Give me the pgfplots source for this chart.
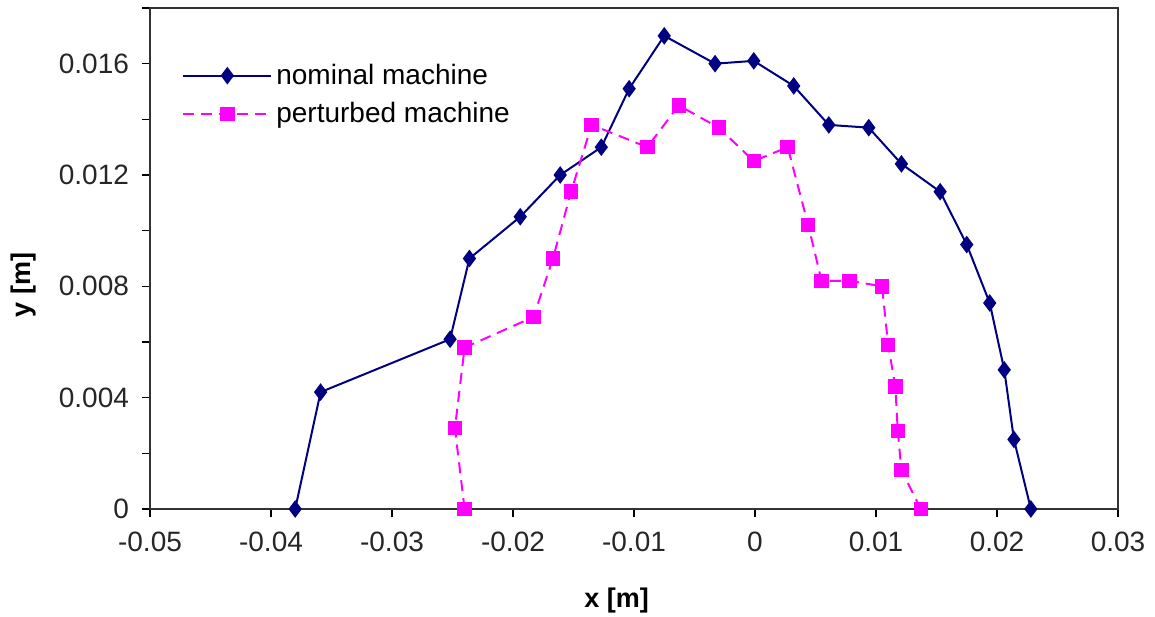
\documentclass[border=0pt]{standalone}
\usepackage{pgfplots}
\pgfplotsset{compat=1.18}
\usepackage{fontspec}
\setmainfont{Liberation Sans}
\definecolor{navyc}{RGB}{0,0,128}
\definecolor{magc}{RGB}{255,0,255}
\begin{document}
\begin{tikzpicture}
\begin{axis}[
  name=ax,
  scale only axis,
  width=484pt, height=250.5pt,
  xmin=-0.05, xmax=0.03, ymin=0, ymax=0.018,
  scaled ticks=false,
  xtick={-0.05,-0.04,-0.03,-0.02,-0.01,0,0.01,0.02,0.03},
  xticklabels={-0.05,-0.04,-0.03,-0.02,-0.01,0,0.01,0.02,0.03},
  ytick={0,0.002,0.004,0.006,0.008,0.010,0.012,0.014,0.016,0.018},
  yticklabels={0,,0.004,,0.008,,0.012,,0.016,},
  tick align=outside,
  major tick length=4pt,
  tick style={black, line width=0.6pt},
  xtick pos=bottom, ytick pos=left,
  axis line style={black!80, line width=0.9pt},
  ticklabel style={font=\fontsize{14}{16}\selectfont, text=black!85},
  xticklabel style={yshift=-4pt},
  yticklabel style={xshift=-3pt},
  xlabel={\textbf{x [m]}},
  ylabel={\textbf{y [m]}},
  xlabel style={font=\fontsize{13.5}{15}\selectfont, at={(axis description cs:0.482,0)}, anchor=center, yshift=-46pt},
  ylabel style={font=\fontsize{13.5}{15}\selectfont, at={(axis description cs:0,0.447)}, anchor=center, rotate=0, yshift=63pt},
  clip=false,
  legend cell align=left,
  legend style={at={(axis description cs:0.033,0.897)}, anchor=north west, draw=none, fill=none,
    font=\fontsize{14}{16}\selectfont, row sep=3.4pt, inner sep=0pt},
  legend image code/.code={\draw[mark repeat=2,mark phase=2] plot coordinates {(0pt,0pt)(22pt,0pt)(44pt,0pt)};},
]
\addplot[navyc, line width=1pt, mark=diamond*, mark size=3.6pt, mark options={solid, fill=navyc}] coordinates {
(-0.0380,0) (-0.0359,0.0042) (-0.0252,0.0061) (-0.0236,0.0090) (-0.0194,0.0105)
(-0.0161,0.0120) (-0.0127,0.0130) (-0.0104,0.0151) (-0.0075,0.0170) (-0.0033,0.0160)
(-0.0001,0.0161) (0.0032,0.0152) (0.0061,0.0138) (0.0094,0.0137) (0.0121,0.0124)
(0.0153,0.0114) (0.0175,0.0095) (0.0194,0.0074) (0.0206,0.0050) (0.0214,0.0025)
(0.0228,0)
};
\addlegendentry{nominal machine}
\addplot[magc, line width=1pt, dash pattern=on 5.5pt off 3.5pt, mark=square*, mark size=3.1pt, mark options={solid, fill=magc}] coordinates {
(-0.0240,0) (-0.0248,0.0029) (-0.0240,0.0058) (-0.0183,0.0069) (-0.0167,0.0090)
(-0.0152,0.0114) (-0.0135,0.0138) (-0.0089,0.0130) (-0.0063,0.0145) (-0.0030,0.0137)
(-0.0001,0.0125) (0.0027,0.0130) (0.0044,0.0102) (0.0055,0.0082) (0.0078,0.0082)
(0.0105,0.0080) (0.0110,0.0059) (0.0116,0.0044) (0.0118,0.0028) (0.0121,0.0014)
(0.0137,0)
};
\addlegendentry{perturbed machine}
\end{axis}
\pgfresetboundingbox
\path[use as bounding box] ([xshift=-75pt,yshift=-53.5pt]ax.south west) rectangle ([xshift=18.5pt,yshift=4pt]ax.north east);
\end{tikzpicture}
\end{document}
